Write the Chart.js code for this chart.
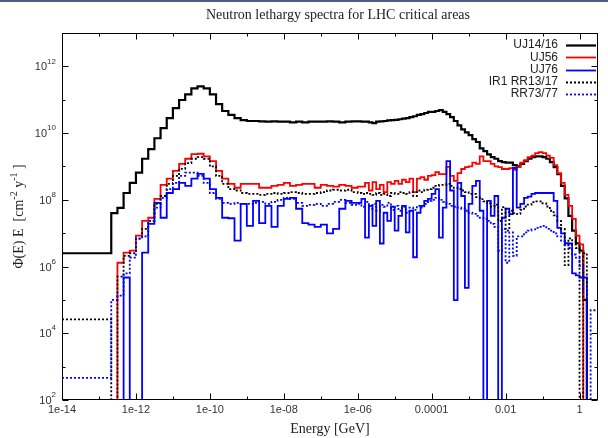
<!DOCTYPE html>
<html>
<head>
<meta charset="utf-8">
<script src="https://cdn.jsdelivr.net/npm/chart.js@4.4.1/dist/chart.umd.min.js"></script>
<style>
  html, body { margin: 0; padding: 0; background: #fff; }
  #wrap { position: relative; width: 608px; height: 438px; }
  #topbar { position: absolute; left: 0; top: 0; width: 608px; height: 2px; background: #4d5d7d; }
</style>
</head>
<body>
<div id="wrap">
  <canvas id="myChart" width="608" height="438"></canvas>
  <div id="topbar"></div>
</div>
<script>
// bin edges [GeV] (lower edge of every bin + closing edge)
const energies = [
  1e-14,
  2.15e-13, 3.16e-13, 4.64e-13, 6.81e-13,
  1e-12, 1.47e-12, 2.15e-12, 3.16e-12, 4.64e-12, 6.81e-12,
  1e-11, 1.47e-11, 2.15e-11, 3.16e-11, 4.64e-11, 6.81e-11,
  1e-10, 1.47e-10, 2.15e-10, 3.16e-10, 4.64e-10, 6.81e-10,
  1e-9, 1.47e-9, 2.15e-9, 3.16e-9, 4.64e-9, 6.81e-9,
  1e-8, 1.47e-8, 2.15e-8, 3.16e-8, 4.64e-8, 6.81e-8,
  1e-7, 1.47e-7, 2.15e-7, 3.16e-7, 4.64e-7, 6.81e-7,
  1e-6, 1.26e-6, 1.58e-6, 2e-6, 2.51e-6, 3.16e-6, 3.98e-6, 5.01e-6, 6.31e-6, 7.94e-6,
  1e-5, 1.26e-5, 1.58e-5, 2e-5, 2.51e-5, 3.16e-5, 3.98e-5, 5.01e-5, 6.31e-5, 7.94e-5,
  1e-4, 1.26e-4, 1.58e-4, 2e-4, 2.51e-4, 3.16e-4, 3.98e-4, 5.01e-4, 6.31e-4, 7.94e-4,
  1e-3, 1.26e-3, 1.58e-3, 2e-3, 2.51e-3, 3.16e-3, 3.98e-3, 5.01e-3, 6.31e-3, 7.94e-3,
  1e-2, 1.26e-2, 1.58e-2, 2e-2, 2.51e-2, 3.16e-2, 3.98e-2, 5.01e-2, 6.31e-2, 7.94e-2,
  1e-1, 1.26e-1, 1.58e-1, 2e-1, 2.51e-1, 3.16e-1, 3.98e-1, 5.01e-1, 6.31e-1, 7.94e-1,
  1, 1.26, 1.58, 2, 2.51,
  3.16
]

// lethargy flux per bin, 1 = empty bin (below the axis)
const uj1416 = [
  2.5e6, 4e7, 5.7e7, 1.6e8, 3.2e8, 6.5e8, 1.7e9, 3.3e9, 7e9, 1.4e10,
  2.8e10, 5.6e10, 9.8e10, 1.45e11, 2.2e11, 2.5e11, 2.2e11, 1.45e11, 7.4e10, 4.6e10,
  3.5e10, 2.8e10, 2.45e10, 2.3e10, 2.3e10, 2.25e10, 2.2e10, 2.25e10, 2.2e10, 2.2e10,
  2.1e10, 2.2e10, 2.1e10, 2.2e10, 2.2e10, 2.2e10, 2.25e10, 2.2e10, 2.1e10, 2.2e10,
  2.25e10, 2.25e10, 2.2e10, 2.2e10, 2.1e10, 2e10, 2.2e10, 2.25e10, 2.3e10, 2.4e10,
  2.45e10, 2.5e10, 2.6e10, 2.7e10, 2.8e10, 3e10, 3.2e10, 3.5e10, 3.7e10, 4e10,
  4.3e10, 4.3e10, 4.6e10, 4.9e10, 4.3e10, 3.7e10, 3e10, 2.3e10, 1.7e10, 1.3e10,
  1.05e10, 8.7e9, 6.6e9, 5.4e9, 3.5e9, 2.9e9, 2.3e9, 1.9e9, 1.7e9, 1.45e9,
  1.35e9, 1.3e9, 1.3e9, 1.1e9, 1e9, 1.2e9, 1.45e9, 1.7e9, 1.9e9, 2e9,
  2e9, 1.9e9, 1.7e9, 1.35e9, 9.6e8, 5.9e8, 2.6e8, 1.1e8, 3.3e7, 1.2e7,
  5e6, 3e6, 1e5, 1, 1, 1
]
const uj56 = [
  1, 1, 1.3e6, 2.6e6, 3e6, 8.5e6, 2.35e7, 2.9e7, 1.07e8, 2.8e8,
  4.3e8, 7.4e8, 1.2e9, 1.7e9, 2.35e9, 2.4e9, 2e9, 1.45e9, 7.4e8, 4.3e8,
  3e8, 2.3e8, 3e8, 3e8, 3e8, 2.3e8, 2.3e8, 2.6e8, 2.8e8, 3.2e8,
  2.6e8, 2.8e8, 3e8, 3e8, 2.3e8, 2.8e8, 2.6e8, 2.5e8, 2.8e8, 2.6e8,
  2.3e8, 2.5e8, 2.5e8, 3.2e8, 1.9e8, 3.4e8, 2.1e8, 2.8e8, 1.7e8, 3.4e8,
  3e8, 3.7e8, 3e8, 4e8, 3.4e8, 4.3e8, 1.7e8, 4.3e8, 4.8e8, 4e8,
  5.2e8, 5.5e8, 6.8e8, 5.9e8, 5.9e8, 9.7e8, 5.2e8, 3.7e8, 6.3e8, 8.4e8,
  9.6e8, 1e9, 1.3e9, 1.2e9, 2e9, 1.45e9, 1.45e9, 1.2e9, 1e9, 9.6e8,
  8.4e8, 8.4e8, 8.9e8, 7.9e8, 9.6e8, 1.3e9, 1.55e9, 1.9e9, 2.1e9, 2.5e9,
  2.7e9, 2.5e9, 2.1e9, 1.8e9, 1.1e9, 6.3e8, 3.2e8, 1.4e8, 6.6e7, 2.7e7,
  8.5e6, 4.6e6, 1, 1, 1, 1
]
const uj76 = [
  1, 1, 1, 4.7e5, 1, 1, 2.6e6, 1.9e7, 8.1e7, 2.9e7,
  1.6e8, 2.1e8, 3.2e8, 2.6e8, 4.3e8, 6e8, 4.3e8, 2.1e8, 1.15e8, 2.9e7,
  2.8e7, 6e6, 7.6e7, 1.65e7, 9.3e7, 2e7, 6.6e7, 1.55e7, 6.6e7, 1.07e8,
  1.15e8, 5.4e7, 2e7, 1.8e7, 1.55e7, 1.8e7, 9.8e6, 1.35e7, 5.4e7, 9.3e7,
  8.1e7, 8.1e7, 1.07e8, 7.4e6, 6.6e7, 1.65e7, 9.3e7, 4.9e6, 4.1e7, 2.35e7,
  6.2e7, 1.2e7, 3.3e7, 6.6e7, 1.05e7, 4.7e7, 1.9e6, 4.1e7, 6.6e7, 9.3e7,
  1.07e8, 1.5e8, 2.1e8, 7.4e6, 5.8e7, 1.45e9, 1.9e8, 9.8e4, 3.2e8, 1.3e8,
  2.3e5, 7.6e7, 2.6e8, 3.7e8, 4.7e7, 1, 9.3e7, 3.3e7, 1.3e8, 1,
  2.9e7, 5.4e7, 3.7e7, 9e8, 5.8e7, 7.6e7, 1.15e8, 1.25e8, 1.5e8, 1.6e8,
  1.6e8, 1.6e8, 1.6e8, 1.6e8, 9.3e7, 1.45e7, 9.8e6, 5e6, 4.9e6, 6.2e5,
  5.4e5, 4.7e5, 4.7e5, 1, 1, 1
]
const rr1317 = [
  2.6e4, 1, 5e5, 2.1e6, 2.5e6, 6.9e6, 1.35e7, 2.35e7, 7.6e7, 1.3e8,
  3e8, 5.2e8, 8.5e8, 1.26e9, 1.7e9, 1.9e9, 1.7e9, 1e9, 5.2e8, 3e8,
  2.1e8, 1.9e8, 1.6e8, 1.5e8, 1.5e8, 1.4e8, 1.5e8, 1.6e8, 1.5e8, 1.6e8,
  1.7e8, 1.6e8, 1.5e8, 1.5e8, 1.6e8, 1.7e8, 1.9e8, 2e8, 1.9e8, 2e8,
  1.7e8, 1.6e8, 1.5e8, 1.6e8, 1.5e8, 1.4e8, 1.6e8, 1.4e8, 1.5e8, 1.3e8,
  1.6e8, 1.5e8, 1.7e8, 1.6e8, 1.5e8, 1.7e8, 1.3e8, 1.9e8, 1.7e8, 2e8,
  2.1e8, 2.3e8, 2.6e8, 2.8e8, 2.8e8, 3e8, 2.6e8, 2.3e8, 2.1e8, 1.9e8,
  1.7e8, 1.5e8, 1.5e8, 1.2e8, 1.05e8, 9e7, 7.8e7, 6.3e7, 7.2e7, 2.35e7,
  6e7, 1.2e7, 4.7e7, 4e7, 3.8e7, 5e7, 6.3e7, 7.2e7, 8.5e7, 9e7,
  9e7, 7.8e7, 6.3e7, 4.7e7, 3.4e7, 2.35e7, 1.35e7, 1.1e6, 7e6, 4.6e6,
  3.6e6, 1, 2.5e6, 1, 1, 1
]
const rr7377 = [
  4.6e2, 1e5, 1.35e5, 6.2e5, 1.85e6, 6.9e6, 8e6, 2.35e7, 5.8e7, 1.15e8,
  2.1e8, 3.2e8, 5.2e8, 6.5e8, 6.5e8, 5.2e8, 3.2e8, 1.6e8, 1.07e8, 8.1e7,
  7.6e7, 8.1e7, 7.6e7, 7.6e7, 8.1e7, 8.7e7, 7.6e7, 8.7e7, 9.9e7, 1.15e8,
  1.07e8, 8.1e7, 6.6e7, 7.1e7, 7.6e7, 6.6e7, 7.6e7, 8.7e7, 9.9e7, 8.1e7,
  7.1e7, 7.6e7, 6.2e7, 8.7e7, 5.4e7, 7.6e7, 4.7e7, 7.1e7, 6.2e7, 8.1e7,
  5e7, 6.6e7, 4.7e7, 6.2e7, 4.1e7, 5.8e7, 5e7, 6.6e7, 5.8e7, 7.6e7,
  9.3e7, 9.9e7, 1.15e8, 9.9e7, 8.7e7, 7.6e7, 6.6e7, 6.2e7, 5.8e7, 5.4e7,
  4.7e7, 4.1e7, 3.8e7, 3.3e7, 2.9e7, 2.7e7, 2.35e7, 1.9e7, 1.55e7, 3e6,
  1.35e7, 1.3e6, 1.05e7, 2.1e6, 8e6, 8e6, 1.05e7, 1.2e7, 1.3e7, 1.45e7,
  1.55e7, 1.65e7, 1.35e7, 1.2e7, 9.8e6, 8e6, 6e6, 4.5e6, 3.6e6, 2.3e6,
  1.85e6, 1.05e6, 1.9e5, 1, 4.9e4, 4.9e4
]

// axis ticks
const xTicks = [1e-14, 1e-13, 1e-12, 1e-11, 1e-10, 1e-9, 1e-8, 1e-7, 1e-6, 1e-5, 1e-4, 1e-3, 1e-2, 1e-1, 1]
const xTickLabels = ['1e-14', '', '1e-12', '', '1e-10', '', '1e-08', '', '1e-06', '', '0.0001', '', '0.01', '', '1']
const yTicks = [1e2, 1e3, 1e4, 1e5, 1e6, 1e7, 1e8, 1e9, 1e10, 1e11, 1e12]
const yTickExps = ['2', '', '4', '', '6', '', '8', '', '10', '', '12']

// histogram points: lower edge + value, closing edge repeats the last value
function steps(vals) {
  let pts = vals.map((v, i) => ({ x: energies[i], y: v }))
  pts.push({ x: energies[vals.length], y: vals[vals.length - 1] })
  return pts
}

function series(label, vals, color, width, dash, order) {
  return {
    label: label,
    data: steps(vals),
    borderColor: color,
    borderWidth: width,
    borderDash: dash,
    stepped: 'before',
    pointRadius: 0,
    fill: false,
    order: order
  }
}

const sans = '"Liberation Sans", Arial, sans-serif'
const serif = '"Liberation Serif", "Times New Roman", serif'

// frame, inward ticks, labels, titles and legend
const gnuFrame = {
  id: 'gnuFrame',
  afterDatasetsDraw(chart) {
    const ctx = chart.ctx
    const a = chart.chartArea
    const xs = chart.scales.x, ys = chart.scales.y
    const L = Math.round(a.left) + 0.5, R = Math.round(a.right) - 0.5
    const T = Math.round(a.top) + 0.5, B = Math.round(a.bottom) - 0.5
    ctx.save()
    ctx.strokeStyle = '#000'
    ctx.lineWidth = 1
    ctx.setLineDash([])
    ctx.strokeRect(L, T, R - L, B - T)

    ctx.beginPath()
    xTicks.forEach((v, i) => {
      const px = Math.round(xs.getPixelForValue(v)) + 0.5
      const len = xTickLabels[i] ? 6 : 3
      ctx.moveTo(px, B); ctx.lineTo(px, B - len)
      ctx.moveTo(px, T); ctx.lineTo(px, T + len)
    })
    yTicks.forEach((v, i) => {
      const py = Math.round(ys.getPixelForValue(v)) + 0.5
      const len = yTickExps[i] ? 6 : 3
      ctx.moveTo(L, py); ctx.lineTo(L + len, py)
      ctx.moveTo(R, py); ctx.lineTo(R - len, py)
    })
    ctx.stroke()

    // tick labels
    ctx.fillStyle = '#333'
    ctx.font = '11px ' + sans
    ctx.textAlign = 'center'
    ctx.textBaseline = 'top'
    xTicks.forEach((v, i) => {
      if (!xTickLabels[i]) return
      ctx.fillText(xTickLabels[i], xs.getPixelForValue(v), a.bottom + 4)
    })
    yTicks.forEach((v, i) => {
      if (!yTickExps[i]) return
      const py = ys.getPixelForValue(v)
      ctx.font = '8px ' + sans
      const we = ctx.measureText(yTickExps[i]).width
      ctx.textAlign = 'left'
      ctx.textBaseline = 'middle'
      ctx.fillText(yTickExps[i], a.left - 6 - we, py - 5)
      ctx.font = '11px ' + sans
      ctx.textAlign = 'right'
      ctx.fillText('10', a.left - 6 - we, py + 1)
    })

    // titles
    ctx.fillStyle = '#222'
    ctx.font = '14px ' + serif
    ctx.textAlign = 'center'
    ctx.textBaseline = 'middle'
    ctx.fillText('Neutron lethargy spectra for LHC critical areas', 338, 15)
    ctx.fillText('Energy [GeV]', (a.left + a.right) / 2, 429)

    // y title with superscripts, rotated
    const parts = [['Φ(E) E  [cm', 0], ['-2', 1], [' y', 0], ['-1', 1], [' ]', 0]]
    ctx.save()
    ctx.translate(19, (a.top + a.bottom) / 2)
    ctx.rotate(-Math.PI / 2)
    ctx.textAlign = 'left'
    let total = 0
    parts.forEach(p => {
      ctx.font = (p[1] ? '10px ' : '14px ') + serif
      total += ctx.measureText(p[0]).width
    })
    let cx = -total / 2
    parts.forEach(p => {
      ctx.font = (p[1] ? '10px ' : '14px ') + serif
      ctx.fillText(p[0], cx, p[1] ? -5 : 0)
      cx += ctx.measureText(p[0]).width
    })
    ctx.restore()

    // legend, text right aligned, sample on the right
    ctx.font = '12px ' + sans
    ctx.textAlign = 'right'
    ctx.textBaseline = 'middle'
    chart.data.datasets.forEach((ds, i) => {
      const ly = 45 + i * 12.25
      ctx.fillStyle = '#222'
      ctx.fillText(ds.label, 558, ly)
      ctx.beginPath()
      ctx.strokeStyle = ds.borderColor
      ctx.lineWidth = ds.borderWidth
      ctx.setLineDash(ds.borderDash)
      ctx.moveTo(566, Math.round(ly) + 0.5)
      ctx.lineTo(596, Math.round(ly) + 0.5)
      ctx.stroke()
    })
    ctx.restore()
  }
}

const ctx = document.getElementById('myChart')

new Chart(ctx, {
  type: 'line',
  data: {
    datasets: [
      series('UJ14/16', uj1416, '#000000', 2.2, [], 5),
      series('UJ56', uj56, '#ff0000', 1.8, [], 4),
      series('UJ76', uj76, '#0000ff', 1.8, [], 3),
      series('IR1 RR13/17', rr1317, '#000000', 1.8, [2, 2], 2),
      series('RR73/77', rr7377, '#0000ff', 1.8, [2, 2], 1)
    ]
  },
  options: {
    responsive: false,
    animation: false,
    devicePixelRatio: 1,
    layout: { padding: { left: 62, right: 10, top: 33, bottom: 38 } },
    plugins: {
      legend: { display: false },
      tooltip: { enabled: false },
      title: { display: false }
    },
    scales: {
      x: { type: 'logarithmic', min: 1e-14, max: 3.1623, display: false },
      y: { type: 'logarithmic', min: 100, max: 1e13, display: false }
    }
  },
  plugins: [gnuFrame]
})
</script>
</body>
</html>
